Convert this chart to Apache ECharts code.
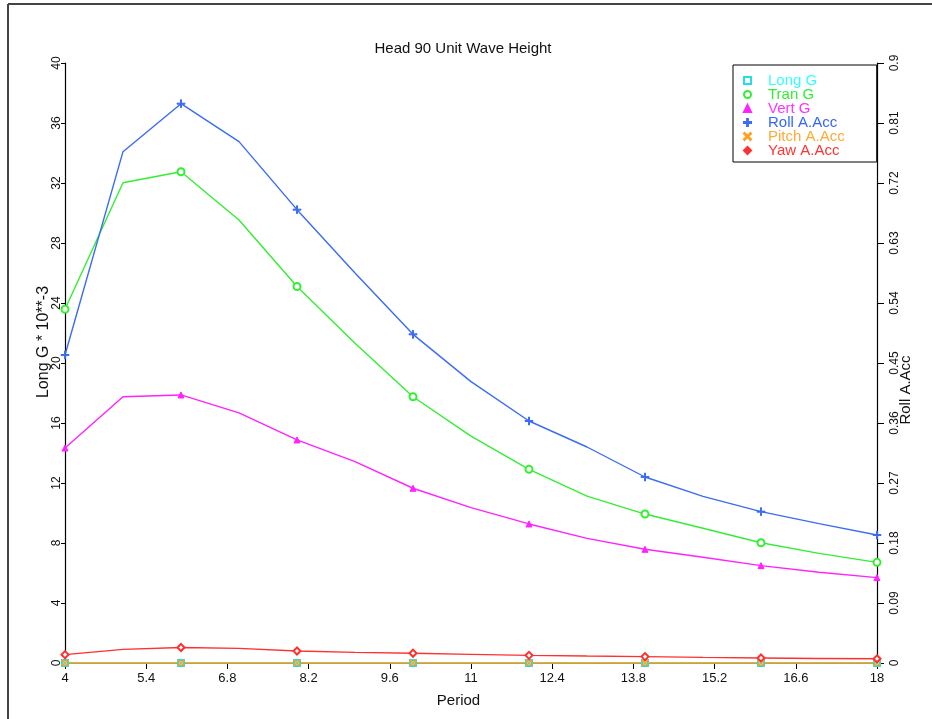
<!DOCTYPE html>
<html>
<head>
<meta charset="utf-8">
<script src="https://cdn.jsdelivr.net/npm/echarts@6/dist/echarts.min.js"></script>
<style>
  html, body { margin: 0; padding: 0; background: #fff; }
  #chart { width: 932px; height: 719px; }
</style>
</head>
<body>
<div id="chart"></div>
<script>
// Wave period (s) for each computed response point
const periods = [4, 5, 6, 7, 8, 9, 10, 11, 12, 13, 14, 15, 16, 17, 18];

// Linear accelerations, G * 10**-3 (left axis)
const longG = [0, 0, 0, 0, 0, 0, 0, 0, 0, 0, 0, 0, 0, 0, 0];
const tranG = [23.58, 32.02, 32.75, 29.53, 25.1, 21.31, 17.75, 15.13, 12.91, 11.13, 9.93, 8.98, 8.02, 7.31, 6.71];
const vertG = [14.33, 17.75, 17.87, 16.67, 14.87, 13.42, 11.65, 10.36, 9.27, 8.31, 7.58, 7.05, 6.49, 6.05, 5.69];

// Angular accelerations (right axis)
const rollAcc = [0.462, 0.767, 0.839, 0.782, 0.68, 0.585, 0.493, 0.422, 0.363, 0.324, 0.279, 0.25, 0.227, 0.209, 0.192];
const pitchAcc = [0, 0, 0, 0, 0, 0, 0, 0, 0, 0, 0, 0, 0, 0, 0];
const yawAcc = [0.0125, 0.0205, 0.0232, 0.022, 0.018, 0.016, 0.0146, 0.013, 0.0115, 0.0104, 0.0096, 0.0084, 0.0076, 0.0068, 0.0063];

// Axis tick labels
const xTicks = [4, 5.4, 6.8, 8.2, 9.6, 11, 12.4, 13.8, 15.2, 16.6, 18];
const leftTicks = [0, 4, 8, 12, 16, 20, 24, 28, 32, 36, 40];
const rightTicks = [0, 0.09, 0.18, 0.27, 0.36, 0.45, 0.54, 0.63, 0.72, 0.81, 0.9];

const FONT = '"Liberation Sans", Arial, sans-serif';
// thin "+" and "x" marker outlines
const PLUS = 'path://M4.4,0H5.6V4.4H10V5.6H5.6V10H4.4V5.6H0V4.4H4.4Z';
const CROSS = 'path://M0,0.9L0.9,0L5,4.1L9.1,0L10,0.9L5.9,5L10,9.1L9.1,10L5,5.9L0.9,10L0,9.1L4.1,5Z';

// markers are drawn on every second period only
function points(values) {
  return periods.map((p, i) => {
    const item = { value: [p, values[i]] };
    if (i % 2 !== 0) item.symbol = 'none';
    return item;
  });
}

function lineSeries(def) {
  return {
    name: def.name,
    type: 'line',
    yAxisIndex: def.axis,
    data: points(def.values),
    symbol: def.symbol,
    symbolSize: def.size,
    showAllSymbol: true,
    clip: false,
    animation: false,
    lineStyle: { color: def.color, width: 1.4 },
    itemStyle: { color: def.color, borderColor: def.color, borderWidth: 1 },
    emphasis: { disabled: true }
  };
}

const seriesDefs = [
  { name: 'Long G', values: longG, color: '#22e0e0', text: '#33ffff', axis: 0, symbol: 'emptyRect', size: 6, icon: 'emptyRect' },
  { name: 'Tran G', values: tranG, color: '#33ee33', text: '#33ee33', axis: 0, symbol: 'emptyCircle', size: 7, icon: 'emptyCircle' },
  { name: 'Vert G', values: vertG, color: '#ff22ff', text: '#ff33ff', axis: 0, symbol: 'triangle', size: 6, icon: 'triangle' },
  { name: 'Roll A.Acc', values: rollAcc, color: '#3a6cf4', text: '#3366ff', axis: 1, symbol: PLUS, size: 8, icon: PLUS },
  { name: 'Pitch A.Acc', values: pitchAcc, color: '#ffa020', text: '#ffaa33', axis: 1, symbol: CROSS, size: 7, icon: CROSS },
  { name: 'Yaw A.Acc', values: yawAcc, color: '#ff3030', text: '#ff3333', axis: 1, symbol: 'emptyDiamond', size: 7, icon: 'diamond' }
];

const chart = echarts.init(document.getElementById('chart'), null, { renderer: 'canvas' });

chart.setOption({
  backgroundColor: '#ffffff',
  animation: false,
  textStyle: { fontFamily: FONT },
  title: {
    text: 'Head 90 Unit Wave Height',
    left: 458,
    top: 36,
    textAlign: 'center',
    textStyle: { fontFamily: FONT, fontSize: 15, fontWeight: 'normal', color: '#111' }
  },
  grid: { left: 65, right: 55, top: 63, bottom: 56, containLabel: false },
  legend: {
    orient: 'vertical',
    left: 733,
    top: 65,
    padding: [8, 32, 4, 10],
    itemWidth: 7,
    itemHeight: 7,
    itemGap: -1,
    borderColor: '#000',
    borderWidth: 1,
    backgroundColor: '#fff',
    selectedMode: false,
    textStyle: { fontFamily: FONT, fontSize: 15, lineHeight: 13, padding: [0, 0, 0, 12] },
    data: seriesDefs.map(s => ({
      name: s.name,
      icon: s.icon,
      textStyle: { color: s.text }
    }))
  },
  xAxis: {
    type: 'value',
    min: 4,
    max: 18,
    name: 'Period',
    nameLocation: 'middle',
    nameGap: 30,
    nameTextStyle: { fontFamily: FONT, fontSize: 15, color: '#111', padding: [0, 25, 0, 0] },
    axisLine: { show: true, onZero: false, lineStyle: { color: '#000', width: 1.2 } },
    axisTick: { show: true, length: 6, lineStyle: { color: '#000' }, customValues: xTicks },
    axisLabel: { fontFamily: FONT, fontSize: 13, color: '#111', margin: 9, customValues: xTicks },
    splitLine: { show: false }
  },
  yAxis: [
    {
      type: 'value',
      min: 0,
      max: 40,
      position: 'left',
      axisLine: { show: true, lineStyle: { color: '#000', width: 1.2 } },
      axisTick: { show: true, length: 4, lineStyle: { color: '#000' }, customValues: leftTicks },
      axisLabel: { fontFamily: FONT, fontSize: 12, color: '#111', rotate: 90, margin: 2, customValues: leftTicks },
      splitLine: { show: false }
    },
    {
      type: 'value',
      min: 0,
      max: 0.9,
      position: 'right',
      axisLine: { show: true, lineStyle: { color: '#000', width: 1.2 } },
      axisTick: { show: true, length: 7, lineStyle: { color: '#000' }, customValues: rightTicks },
      axisLabel: { fontFamily: FONT, fontSize: 12, color: '#111', rotate: 90, margin: 12, customValues: rightTicks },
      splitLine: { show: false }
    }
  ],
  graphic: [
    // window frame edges
    { type: 'line', shape: { x1: 8, y1: 4, x2: 932, y2: 4 }, style: { stroke: '#444', lineWidth: 2 }, silent: true },
    { type: 'line', shape: { x1: 8, y1: 4, x2: 8, y2: 719 }, style: { stroke: '#444', lineWidth: 2 }, silent: true },
    // y-axis titles
    {
      type: 'text', x: 44, y: 342, rotation: Math.PI / 2,
      style: { text: 'Long G * 10**-3', font: '16px ' + FONT, fill: '#111', align: 'center', verticalAlign: 'middle' },
      silent: true
    },
    {
      type: 'text', x: 906, y: 390, rotation: Math.PI / 2,
      style: { text: 'Roll A.Acc', font: '15px ' + FONT, fill: '#111', align: 'center', verticalAlign: 'middle' },
      silent: true
    }
  ],
  series: seriesDefs.map(lineSeries)
});
</script>
</body>
</html>
